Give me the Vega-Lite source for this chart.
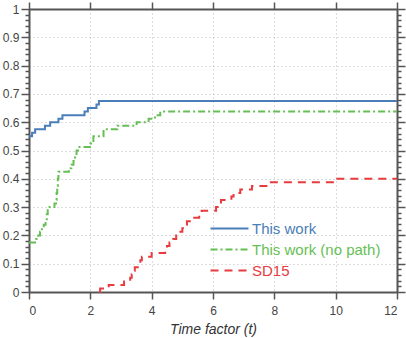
{
  "$schema": "https://vega.github.io/schema/vega-lite/v6.json",
  "width": 368,
  "height": 283,
  "autosize": "none",
  "padding": {"left": 29, "top": 9, "right": 9, "bottom": 46},
  "config": {
    "font": "Liberation Sans",
    "view": {"stroke": null},
    "axis": {"labelFont": "Liberation Sans", "titleFont": "Liberation Sans"}
  },
  "data": {
    "values": [
      {"series": "This work", "t": 0, "v": 0.55},
      {"series": "This work", "t": 0.1, "v": 0.5625},
      {"series": "This work", "t": 0.2, "v": 0.575},
      {"series": "This work", "t": 0.52, "v": 0.5875},
      {"series": "This work", "t": 0.69, "v": 0.6},
      {"series": "This work", "t": 0.96, "v": 0.6125},
      {"series": "This work", "t": 1.09, "v": 0.625},
      {"series": "This work", "t": 1.81, "v": 0.6375},
      {"series": "This work", "t": 1.92, "v": 0.65},
      {"series": "This work", "t": 2.2, "v": 0.6625},
      {"series": "This work", "t": 2.28, "v": 0.675},
      {"series": "This work", "t": 12, "v": 0.675},
      {"series": "This work (no path)", "t": 0, "v": 0.175},
      {"series": "This work (no path)", "t": 0.23, "v": 0.1875},
      {"series": "This work (no path)", "t": 0.3, "v": 0.2},
      {"series": "This work (no path)", "t": 0.36, "v": 0.2125},
      {"series": "This work (no path)", "t": 0.42, "v": 0.225},
      {"series": "This work (no path)", "t": 0.48, "v": 0.2375},
      {"series": "This work (no path)", "t": 0.54, "v": 0.25},
      {"series": "This work (no path)", "t": 0.58, "v": 0.275},
      {"series": "This work (no path)", "t": 0.61, "v": 0.3},
      {"series": "This work (no path)", "t": 0.83, "v": 0.3125},
      {"series": "This work (no path)", "t": 0.88, "v": 0.325},
      {"series": "This work (no path)", "t": 0.9, "v": 0.35},
      {"series": "This work (no path)", "t": 0.92, "v": 0.375},
      {"series": "This work (no path)", "t": 0.94, "v": 0.4},
      {"series": "This work (no path)", "t": 0.96, "v": 0.425},
      {"series": "This work (no path)", "t": 1.3, "v": 0.4375},
      {"series": "This work (no path)", "t": 1.38, "v": 0.45},
      {"series": "This work (no path)", "t": 1.45, "v": 0.4625},
      {"series": "This work (no path)", "t": 1.5, "v": 0.475},
      {"series": "This work (no path)", "t": 1.55, "v": 0.5},
      {"series": "This work (no path)", "t": 1.6, "v": 0.5125},
      {"series": "This work (no path)", "t": 1.99, "v": 0.525},
      {"series": "This work (no path)", "t": 2.1, "v": 0.55},
      {"series": "This work (no path)", "t": 2.43, "v": 0.575},
      {"series": "This work (no path)", "t": 2.88, "v": 0.5875},
      {"series": "This work (no path)", "t": 3.51, "v": 0.6},
      {"series": "This work (no path)", "t": 3.9, "v": 0.6125},
      {"series": "This work (no path)", "t": 4.11, "v": 0.625},
      {"series": "This work (no path)", "t": 4.28, "v": 0.6375},
      {"series": "This work (no path)", "t": 12, "v": 0.6375},
      {"series": "SD15", "t": 2.3, "v": 0},
      {"series": "SD15", "t": 2.32, "v": 0.0125},
      {"series": "SD15", "t": 2.6, "v": 0.025},
      {"series": "SD15", "t": 3.1, "v": 0.0375},
      {"series": "SD15", "t": 3.3, "v": 0.05},
      {"series": "SD15", "t": 3.35, "v": 0.0625},
      {"series": "SD15", "t": 3.4, "v": 0.075},
      {"series": "SD15", "t": 3.45, "v": 0.0875},
      {"series": "SD15", "t": 3.6, "v": 0.1},
      {"series": "SD15", "t": 3.63, "v": 0.1125},
      {"series": "SD15", "t": 3.68, "v": 0.125},
      {"series": "SD15", "t": 4.0, "v": 0.1375},
      {"series": "SD15", "t": 4.44, "v": 0.15},
      {"series": "SD15", "t": 4.5, "v": 0.1625},
      {"series": "SD15", "t": 4.58, "v": 0.175},
      {"series": "SD15", "t": 4.7, "v": 0.1875},
      {"series": "SD15", "t": 4.8, "v": 0.2},
      {"series": "SD15", "t": 4.9, "v": 0.2125},
      {"series": "SD15", "t": 5.0, "v": 0.225},
      {"series": "SD15", "t": 5.08, "v": 0.2375},
      {"series": "SD15", "t": 5.15, "v": 0.25},
      {"series": "SD15", "t": 5.3, "v": 0.2625},
      {"series": "SD15", "t": 5.55, "v": 0.275},
      {"series": "SD15", "t": 5.63, "v": 0.2875},
      {"series": "SD15", "t": 6.1, "v": 0.3},
      {"series": "SD15", "t": 6.2, "v": 0.3125},
      {"series": "SD15", "t": 6.26, "v": 0.325},
      {"series": "SD15", "t": 6.6, "v": 0.3375},
      {"series": "SD15", "t": 6.67, "v": 0.35},
      {"series": "SD15", "t": 6.89, "v": 0.3625},
      {"series": "SD15", "t": 7.27, "v": 0.375},
      {"series": "SD15", "t": 7.81, "v": 0.3875},
      {"series": "SD15", "t": 10.0, "v": 0.4},
      {"series": "SD15", "t": 12, "v": 0.4}
    ]
  },
  "layer": [
    {
      "mark": {"type": "line", "interpolate": "step-after", "strokeWidth": 2},
      "encoding": {
        "x": {
          "field": "t", "type": "quantitative",
          "scale": {"domain": [0, 12], "nice": false, "zero": false},
          "axis": {
            "orient": "bottom",
            "values": [0, 2, 4, 6, 8, 10, 12],
            "title": "Time factor (t)",
            "titleFontStyle": "italic", "titleFontWeight": "normal", "titleFontSize": 14, "titleColor": "#333",
            "titlePadding": 6,
            "labelFontSize": 12, "labelColor": "#444", "labelPadding": 6,
            "tickSize": 7, "tickColor": "#555", "tickWidth": 1.5,
            "domainColor": "#555", "domainWidth": 2,
            "grid": true, "gridDash": [1, 3], "gridColor": "#bbb", "gridWidth": 1
          }
        },
        "y": {
          "field": "v", "type": "quantitative",
          "scale": {"domain": [0, 1], "nice": false},
          "axis": {
            "orient": "left",
            "title": null,
            "values": [0,0.02,0.04,0.06,0.08,0.1,0.12,0.14,0.16,0.18,0.2,0.22,0.24,0.26,0.28,0.3,0.32,0.34,0.36,0.38,0.4,0.42,0.44,0.46,0.48,0.5,0.52,0.54,0.56,0.58,0.6,0.62,0.64,0.66,0.68,0.7,0.72,0.74,0.76,0.78,0.8,0.82,0.84,0.86,0.88,0.9,0.92,0.94,0.96,0.98,1],
            "labelExpr": "abs(datum.value*10 - round(datum.value*10)) < 0.001 ? format(datum.value, '~g') : ''",
            "labelOverlap": false,
            "labelFontSize": 12, "labelColor": "#444", "labelPadding": 2,
            "tickSize": {"condition": {"test": "abs(datum.value*10 - round(datum.value*10)) < 0.001", "value": 8}, "value": 4},
            "tickColor": "#555", "tickWidth": 1.5,
            "domainColor": "#555", "domainWidth": 2,
            "grid": true, "gridDash": [1, 3], "gridColor": "#bbb", "gridWidth": 1,
            "gridOpacity": {"condition": {"test": "abs(datum.value*10 - round(datum.value*10)) < 0.001 && datum.value > 0 && datum.value < 1", "value": 1}, "value": 0}
          }
        },
        "color": {
          "field": "series", "type": "nominal",
          "scale": {"domain": ["This work", "This work (no path)", "SD15"], "range": ["#4a7eb8", "#66bf55", "#e83a3f"]},
          "legend": {
            "orient": "none", "legendX": 193, "legendY": 212, "title": null,
            "symbolType": "M-3.8,0H3.8", "symbolSize": 100, "symbolStrokeWidth": 2,
            "labelFontSize": 15, "labelFont": "Liberation Sans", "labelOffset": 15, "labelLimit": 300,
            "padding": 0, "rowPadding": 5,
            "encode": {"labels": {"update": {"fill": {"scale": "color", "field": "value"}}}}
          }
        },
        "strokeDash": {
          "field": "series", "type": "nominal",
          "scale": {"domain": ["This work", "This work (no path)", "SD15"], "range": [[1, 0], [7, 3, 2, 3], [8, 6]]},
          "legend": {
            "orient": "none", "legendX": 193, "legendY": 212, "title": null,
            "symbolType": "M-3.8,0H3.8", "symbolSize": 100, "symbolStrokeWidth": 2,
            "labelFontSize": 15, "labelFont": "Liberation Sans", "labelOffset": 15, "labelLimit": 300,
            "padding": 0, "rowPadding": 5,
            "encode": {"labels": {"update": {"fill": {"scale": "color", "field": "value"}}}}
          }
        }
      }
    },
    {
      "mark": {"type": "line", "opacity": 0},
      "encoding": {
        "x": {
          "field": "t", "type": "quantitative",
          "axis": {
            "orient": "top", "values": [0, 2, 4, 6, 8, 10, 12], "labels": false, "title": null,
            "tickSize": 7, "tickColor": "#555", "tickWidth": 1.5,
            "domainColor": "#555", "domainWidth": 2, "grid": false
          }
        },
        "y": {
          "field": "v", "type": "quantitative",
          "axis": {
            "orient": "right", "labels": false, "title": null,
            "values": [0,0.02,0.04,0.06,0.08,0.1,0.12,0.14,0.16,0.18,0.2,0.22,0.24,0.26,0.28,0.3,0.32,0.34,0.36,0.38,0.4,0.42,0.44,0.46,0.48,0.5,0.52,0.54,0.56,0.58,0.6,0.62,0.64,0.66,0.68,0.7,0.72,0.74,0.76,0.78,0.8,0.82,0.84,0.86,0.88,0.9,0.92,0.94,0.96,0.98,1],
            "tickSize": {"condition": {"test": "abs(datum.value*10 - round(datum.value*10)) < 0.001", "value": 8}, "value": 4},
            "tickColor": "#555", "tickWidth": 1.5,
            "domainColor": "#555", "domainWidth": 2, "grid": false
          }
        }
      }
    }
  ],
  "resolve": {"axis": {"x": "independent", "y": "independent"}}
}
